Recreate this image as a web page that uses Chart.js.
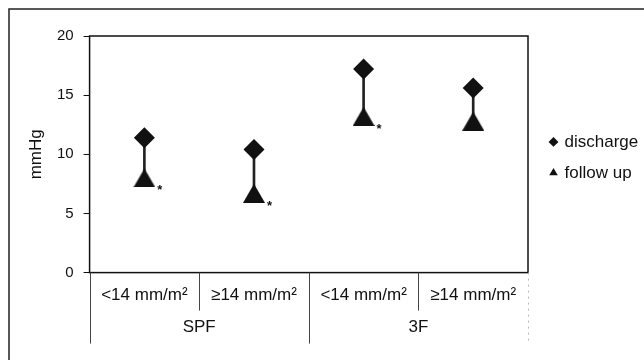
<!DOCTYPE html>
<html><head><meta charset="utf-8">
<script src="https://cdn.jsdelivr.net/npm/chart.js@4.4.0/dist/chart.umd.min.js"></script>
<style>html,body{margin:0;padding:0;background:#fff;}#wrap{width:644px;height:360px;position:relative;}</style>
</head><body><div id="wrap"><canvas id="c"></canvas></div>
<script>
// ---- data ----
const categories = ['<14 mm/m²', '≥14 mm/m²', '<14 mm/m²', '≥14 mm/m²'];
const groupLabels = ['SPF', 'SPF', '3F', '3F'];
const discharge = [11.4, 10.4, 17.2, 15.6];
const followUp = [8.0, 6.7, 13.2, 12.8];
const significant = [true, true, true, false];
const yTicks = [0, 5, 10, 15, 20];
const seriesNames = ['discharge', 'follow up'];

Chart.defaults.font.family = '"Liberation Sans", Arial, sans-serif';
Chart.defaults.color = '#111';

function triangleImage(w, h) {
  const c = document.createElement('canvas');
  c.width = w; c.height = h;
  const g = c.getContext('2d');
  g.fillStyle = '#111';
  g.beginPath(); g.moveTo(w / 2, 0); g.lineTo(w, h); g.lineTo(0, h); g.closePath(); g.fill();
  return c;
}
const triImg = triangleImage(22, 19);
const legendStyles = { 1: 'rectRot', 2: 'triangle' };

const decor = {
  id: 'decor',
  afterDraw(chart) {
    const { ctx, chartArea: a, scales: { x } } = chart;
    ctx.save();
    // outer frame
    ctx.strokeStyle = '#222'; ctx.lineWidth = 1.5;
    ctx.beginPath(); ctx.moveTo(9, 360); ctx.lineTo(9, 9); ctx.lineTo(644, 9); ctx.stroke();
    // plot box
    ctx.strokeStyle = '#111'; ctx.lineWidth = 1.5;
    ctx.strokeRect(a.left, a.top, a.width, a.height);
    // category separators
    const n = categories.length;
    const edge = i => x.getPixelForValue(i - 0.5);
    for (let i = 0; i <= n; i++) {
      const px = Math.round(edge(i)) + 0.5;
      const groupEdge = i === 0 || i === n || groupLabels[i] !== groupLabels[i - 1];
      const bottom = groupEdge ? a.bottom + 71 : a.bottom + 38;
      ctx.beginPath();
      if (i === n) { ctx.strokeStyle = '#bbb'; ctx.setLineDash([2, 4]); ctx.lineWidth = 1; }
      else { ctx.strokeStyle = '#444'; ctx.setLineDash([]); ctx.lineWidth = 1; }
      ctx.moveTo(px, a.bottom); ctx.lineTo(px, bottom); ctx.stroke();
    }
    ctx.setLineDash([]);
    // group labels
    ctx.fillStyle = '#111';
    ctx.font = '17px "Liberation Sans", Arial, sans-serif';
    ctx.textAlign = 'center'; ctx.textBaseline = 'middle';
    let start = 0;
    for (let i = 1; i <= n; i++) {
      if (i === n || groupLabels[i] !== groupLabels[start]) {
        const cx = (edge(start) + edge(i)) / 2;
        ctx.fillText(groupLabels[start], cx, a.bottom + 55);
        start = i;
      }
    }
    // significance asterisks
    const meta = chart.getDatasetMeta(2);
    ctx.font = 'bold 13px "Liberation Sans", Arial, sans-serif';
    ctx.textBaseline = 'alphabetic';
    meta.data.forEach((pt, i) => {
      if (significant[i]) ctx.fillText('*', pt.x + 15.5, pt.y + 16.5);
    });
    ctx.restore();
  }
};

new Chart(document.getElementById('c'), {
  type: 'bar',
  data: {
    labels: categories,
    datasets: [
      {
        type: 'bar', label: 'range',
        data: discharge.map((d, i) => [followUp[i], d]),
        backgroundColor: '#222', barThickness: 2, order: 3
      },
      {
        type: 'line', label: seriesNames[0], data: discharge, showLine: false,
        pointStyle: 'rectRot', pointRadius: 10.5, pointHoverRadius: 10.5,
        pointBackgroundColor: '#111', pointBorderWidth: 0, borderWidth: 0,
        backgroundColor: '#111', borderColor: '#111', order: 1
      },
      {
        type: 'line', label: seriesNames[1], data: followUp, showLine: false,
        pointStyle: triImg, pointRadius: 10,
        pointBackgroundColor: '#111', pointBorderWidth: 0, borderWidth: 0,
        backgroundColor: '#111', borderColor: '#111', order: 2
      }
    ]
  },
  options: {
    responsive: true, maintainAspectRatio: false, animation: false, events: [],
    layout: { padding: { left: 12.5, top: 36, right: 0, bottom: 49 } },
    scales: {
      x: {
        type: 'category', offset: true,
        grid: { display: false }, border: { display: false },
        ticks: { font: { size: 17 }, color: '#111', padding: 5, maxRotation: 0, autoSkip: false }
      },
      y: {
        min: 0, max: 20,
        afterBuildTicks: s => { s.ticks = yTicks.map(v => ({ value: v })); },
        grid: { drawOnChartArea: false, drawTicks: true, tickLength: 6, color: '#111', lineWidth: 1 },
        border: { display: false },
        ticks: { font: { size: 15 }, color: '#111', padding: 10 },
        title: { display: true, text: 'mmHg', font: { size: 17 }, color: '#111', padding: { top: 14, bottom: 0 } }
      },
      yR: {
        position: 'right', display: true,
        grid: { display: false }, border: { display: false }, ticks: { display: false },
        afterFit: s => { s.width = 9; }
      }
    },
    plugins: {
      tooltip: { enabled: false },
      legend: {
        position: 'right', fullSize: false, maxWidth: 107,
        title: { display: true, text: '', font: { size: 1 }, padding: { top: 2.5, bottom: 2.5 } },
        labels: {
          usePointStyle: true, boxWidth: 5, boxHeight: 7, padding: 14,
          font: { size: 17 }, color: '#111',
          generateLabels(chart) {
            const items = Chart.defaults.plugins.legend.labels.generateLabels(chart);
            return items.filter(it => it.datasetIndex !== 0)
              .map(it => Object.assign({}, it, { pointStyle: legendStyles[it.datasetIndex], lineWidth: 0, fillStyle: '#111', strokeStyle: '#111' }));
          }
        }
      }
    }
  },
  plugins: [decor]
});
</script>
</body></html>
